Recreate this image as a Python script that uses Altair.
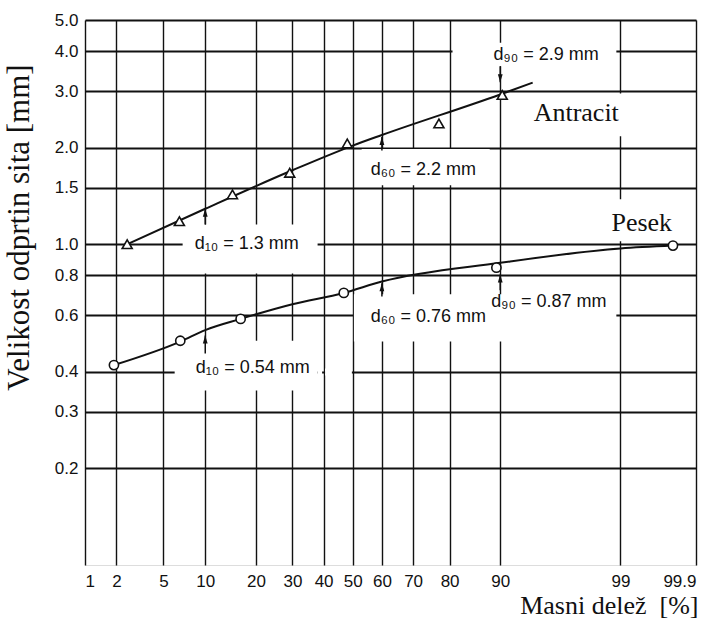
import altair as alt
import pandas as pd
from statistics import NormalDist

ND = NormalDist()

# ---------------- data ----------------
x_tick_pct = [1, 2, 5, 10, 20, 30, 40, 50, 60, 70, 80, 90, 99, 99.857]
x_domain_pct = [1, 99.857]
y_ticks = [0.2, 0.3, 0.4, 0.6, 0.8, 1.0, 1.5, 2.0, 3.0, 4.0, 5.0]
y_domain = [0.1, 5.0]

# Antracit (triangles) measured points and drawn curve
ant_p = [2.5, 6.6, 14.8, 29.2, 48.1, 77.3, 90.3]
ant_d = [1.0, 1.18, 1.43, 1.67, 2.06, 2.38, 2.92]
ant_line_p = [2.5, 10, 30, 50, 60, 90, 94.1]
ant_line_d = [1.0, 1.29, 1.70, 2.03, 2.19, 2.93, 3.19]

# Pesek (circles) measured points and drawn curve
sand_p = [1.9, 6.7, 16.5, 46.9, 89.4, 99.73]
sand_d = [0.42, 0.50, 0.585, 0.705, 0.845, 0.99]
sand_line_p = [1.9, 6.7, 10, 16.5, 30, 46.9, 60, 90, 99, 99.73]
sand_line_d = [0.42, 0.497, 0.54, 0.585, 0.65, 0.705, 0.765, 0.875, 0.97, 0.99]

# d-value arrows (percent, tail size, tip size)
arr_p = [10, 60, 90, 10, 60, 90]
arr_tail = [1.153, 1.96, 3.59, 0.456, 0.687, 0.718]
arr_tip = [1.29, 2.16, 3.20, 0.519, 0.755, 0.805]

# annotation labels
ann_text = ["d₁₀ = 1.3 mm", "d₆₀ = 2.2 mm", "d₉₀ = 2.9 mm",
            "d₁₀ = 0.54 mm", "d₆₀ = 0.76 mm", "d₉₀ = 0.87 mm"]
ann_p = [8.48, 56.2, 88.95, 8.61, 56.2, 88.57]
ann_d = [1.0, 1.70, 3.89, 0.4125, 0.591, 0.660]

series_text = ["Antracit", "Pesek"]
series_p = [94.2, 98.77]
series_d = [2.56, 1.162]

# blank label areas of the printed grid (percent range, size range)
gap_p1 = [80.7, 93.2, 53.1, 6.97, 98.4, 6.09, 38.0, 40.5, 50.4]
gap_p2 = [98.9, 99.37, 88.3, 38.0, 99.83, 38.0, 39.5, 49.7, 98.9]
gap_d1 = [3.59, 2.17, 1.527, 0.811, 1.021, 0.35, 0.39, 0.39, 0.4975]
gap_d2 = [4.25, 2.95, 1.98, 1.153, 1.38, 0.50, 0.41, 0.41, 0.698]


def z(p):
    return ND.inv_cdf(p / 100.0)


ant_pts = pd.DataFrame({"z": [z(p) for p in ant_p], "d": ant_d})
ant_line = pd.DataFrame({"z": [z(p) for p in ant_line_p], "d": ant_line_d})
sand_pts = pd.DataFrame({"z": [z(p) for p in sand_p], "d": sand_d})
sand_line = pd.DataFrame({"z": [z(p) for p in sand_line_p], "d": sand_line_d})
arrows = pd.DataFrame({
    "z": [z(p) for p in arr_p], "d": arr_tail, "d2": arr_tip,
    "shape": ["M0,0L0.6,2L-0.6,2Z" if tip > tail else "M0,0L0.6,-2L-0.6,-2Z"
              for tail, tip in zip(arr_tail, arr_tip)],
})
heads = pd.DataFrame({"z": arrows["z"], "d": arr_tip, "shape": arrows["shape"]})
ann = pd.DataFrame({"z": [z(p) for p in ann_p], "d": ann_d, "t": ann_text})
ser = pd.DataFrame({"z": [z(p) for p in series_p], "d": series_d, "t": series_text})
gaps = pd.DataFrame({"z": [z(p) for p in gap_p1], "z2": [z(p) for p in gap_p2],
                     "d": gap_d1, "d2": gap_d2})

INK = "#111111"

xaxis = alt.Axis(
    values=[z(v) for v in x_tick_pct],
    labelExpr="format(cumulativeNormal(datum.value) * 100, '.3~r')",
    grid=True, gridColor=INK, gridWidth=1.4, gridOpacity=1,
    ticks=False, domain=False, labelOverlap=False,
    labelFont="Liberation Sans", labelFontSize=17, labelColor=INK, labelPadding=8,
    title="Masni delež\u00a0\u00a0[%]", titleFont="Liberation Serif", titleFontSize=26,
    titleFontWeight="normal", titleColor=INK, titleAlign="right", titleAnchor="end",
    titleX=613, titleY=40, titleBaseline="middle",
)
yaxis = alt.Axis(
    values=y_ticks, format=".1f",
    grid=True, gridColor=INK, gridWidth=1.9, gridOpacity=1,
    ticks=False, domain=False, labelOverlap=False,
    labelFont="Liberation Sans", labelFontSize=17, labelColor=INK, labelPadding=7,
    title="Velikost odprtin sita [mm]", titleFont="Liberation Serif", titleFontSize=31,
    titleFontWeight="normal", titleColor=INK, titleX=-66, titleY=207,
    titleAlign="center", titleBaseline="middle",
)

X = alt.X("z:Q", scale=alt.Scale(domain=[z(x_domain_pct[0]), z(x_domain_pct[1])],
                                 nice=False, zero=False), axis=xaxis)
Y = alt.Y("d:Q", scale=alt.Scale(type="log", domain=y_domain, nice=False), axis=yaxis)

gap_layer = alt.Chart(gaps).mark_rect(color="white", strokeWidth=0).encode(
    x=X, x2="z2:Q", y=Y, y2="d2:Q")

line_style = dict(color=INK, strokeWidth=2, interpolate="monotone")
ant_curve = alt.Chart(ant_line).mark_line(**line_style).encode(x=X, y=Y)
sand_curve = alt.Chart(sand_line).mark_line(**line_style).encode(x=X, y=Y)

ant_marks = alt.Chart(ant_pts).mark_point(
    shape="triangle-up", filled=True, fill="white", stroke=INK, strokeWidth=1.6,
    size=100, opacity=1).encode(x=X, y=Y)
sand_marks = alt.Chart(sand_pts).mark_point(
    shape="circle", filled=True, fill="white", stroke=INK, strokeWidth=1.6,
    size=85, opacity=1).encode(x=X, y=Y)

shafts = alt.Chart(arrows).mark_rule(color=INK, strokeWidth=1.5).encode(
    x=X, y=Y, y2="d2:Q")
head_marks = alt.Chart(heads).mark_point(
    filled=True, color=INK, size=64, opacity=1).encode(
    x=X, y=Y, shape=alt.Shape("shape:N", scale=None))

ann_layer = alt.Chart(ann).mark_text(
    align="left", baseline="middle", font="Liberation Sans", fontSize=18,
    color=INK).encode(x=X, y=Y, text="t:N")
ser_layer = alt.Chart(ser).mark_text(
    align="left", baseline="middle", font="Liberation Serif", fontSize=26,
    color=INK).encode(x=X, y=Y, text="t:N")

chart = alt.layer(
    gap_layer, ant_curve, sand_curve, ant_marks, sand_marks,
    shafts, head_marks, ann_layer, ser_layer,
).properties(
    width=611, height=545,
    padding={"left": 85, "top": 20, "right": 12, "bottom": 54},
    autosize="none",
).configure_view(
    stroke=INK, strokeWidth=2.5
).configure(background="white")

chart.save("out.html", embed_options={"renderer": "svg", "actions": False})
